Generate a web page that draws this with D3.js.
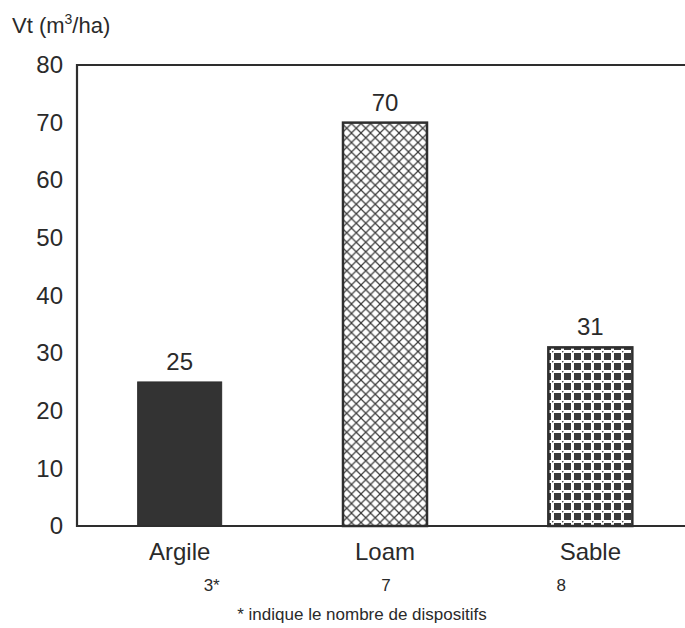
<!DOCTYPE html>
<html>
<head>
<meta charset="utf-8">
<script src="https://cdn.jsdelivr.net/npm/d3@7"></script>
<style>
  body { margin: 0; background: #fff; }
  text { font-family: "Liberation Sans", Arial, sans-serif; fill: #2a2a2a; }
</style>
</head>
<body>
<div id="chart"></div>
<script>
// soil types, volumes and number of sites
const soils = ['Argile', 'Loam', 'Sable'];
const volumes = [25, 70, 31];
const counts = ['3*', '7', '8'];
const yTicks = [0, 10, 20, 30, 40, 50, 60, 70, 80];

const W = 685, H = 628;
const m = {left: 77, top: 65, right: -8, bottom: 102};
const ink = '#2e2e2e';

const svg = d3.select('#chart').append('svg')
  .attr('width', W).attr('height', H);

const defs = svg.append('defs');

// crosshatch for Loam
const cross = defs.append('pattern').attr('id', 'cross')
  .attr('patternUnits', 'userSpaceOnUse').attr('width', 9.5).attr('height', 9.5);
cross.append('rect').attr('width', 9.5).attr('height', 9.5).attr('fill', '#fff');
cross.append('path').attr('d', 'M0,0L9.5,9.5M9.5,0L0,9.5')
  .attr('stroke', '#3a3a3a').attr('stroke-width', 1.2);

// checker grid for Sable
const grid = defs.append('pattern').attr('id', 'grid')
  .attr('patternUnits', 'userSpaceOnUse').attr('width', 10).attr('height', 10)
  .attr('x', 2).attr('y', 1);
grid.append('rect').attr('width', 10).attr('height', 10).attr('fill', '#fff');
grid.append('rect').attr('x', 2).attr('y', 2).attr('width', 7).attr('height', 7).attr('fill', '#3a3a3a');
grid.append('circle').attr('cx', 0.5).attr('cy', 0.5).attr('r', 1).attr('fill', '#555');

const fills = {Argile: '#333', Loam: 'url(#cross)', Sable: 'url(#grid)'};

const x = d3.scalePoint().domain(soils)
  .range([m.left, W - m.right]).padding(0.5);
const y = d3.scaleLinear().domain([0, 80])
  .range([H - m.bottom, m.top]);

const barW = 84;
const countShift = [32, 1, -29];

// y axis labels (no tick marks)
const yAxis = svg.append('g')
  .attr('transform', `translate(${m.left},0)`)
  .call(d3.axisLeft(y).tickValues(yTicks).tickSize(0).tickPadding(14));
yAxis.select('.domain').remove();
yAxis.selectAll('text').style('font-size', '24px')
  .style('font-family', '"Liberation Sans", Arial, sans-serif').attr('fill', ink);

// bars
const data = soils.map((s, i) => ({soil: s, v: volumes[i], n: counts[i], i}));
svg.append('g').selectAll('rect').data(data).join('rect')
  .attr('x', d => x(d.soil) - barW / 2)
  .attr('y', d => y(d.v))
  .attr('width', barW)
  .attr('height', d => y(0) - y(d.v))
  .attr('fill', d => fills[d.soil])
  .attr('stroke', ink)
  .attr('stroke-width', d => d.soil === 'Argile' ? 1 : 2.5);

// value labels
svg.append('g').selectAll('text').data(data).join('text')
  .attr('x', d => x(d.soil))
  .attr('y', d => y(d.v) - 12)
  .attr('text-anchor', 'middle')
  .style('font-size', '24px')
  .text(d => d.v);

// frame: top, left, bottom
svg.append('path')
  .attr('d', `M${W},${y(80)}H${m.left}V${y(0)}H${W}`)
  .attr('fill', 'none').attr('stroke', ink).attr('stroke-width', 2.2);

// category labels
svg.append('g').selectAll('text').data(data).join('text')
  .attr('x', d => x(d.soil))
  .attr('y', y(0) + 34)
  .attr('text-anchor', 'middle')
  .style('font-size', '24px')
  .text(d => d.soil);

// number of sites
svg.append('g').selectAll('text').data(data).join('text')
  .attr('x', d => x(d.soil) + countShift[d.i])
  .attr('y', y(0) + 65)
  .attr('text-anchor', 'middle')
  .style('font-size', '17px')
  .text(d => d.n);

svg.append('text')
  .attr('x', 362).attr('y', y(0) + 94)
  .attr('text-anchor', 'middle')
  .style('font-size', '17px')
  .text('* indique le nombre de dispositifs');

// y title
const t = svg.append('text').attr('x', 12).attr('y', 33).style('font-size', '22px');
t.append('tspan').text('Vt (m');
t.append('tspan').attr('dy', -9).style('font-size', '14px').text('3');
t.append('tspan').attr('dy', 9).text('/ha)');
</script>
</body>
</html>
